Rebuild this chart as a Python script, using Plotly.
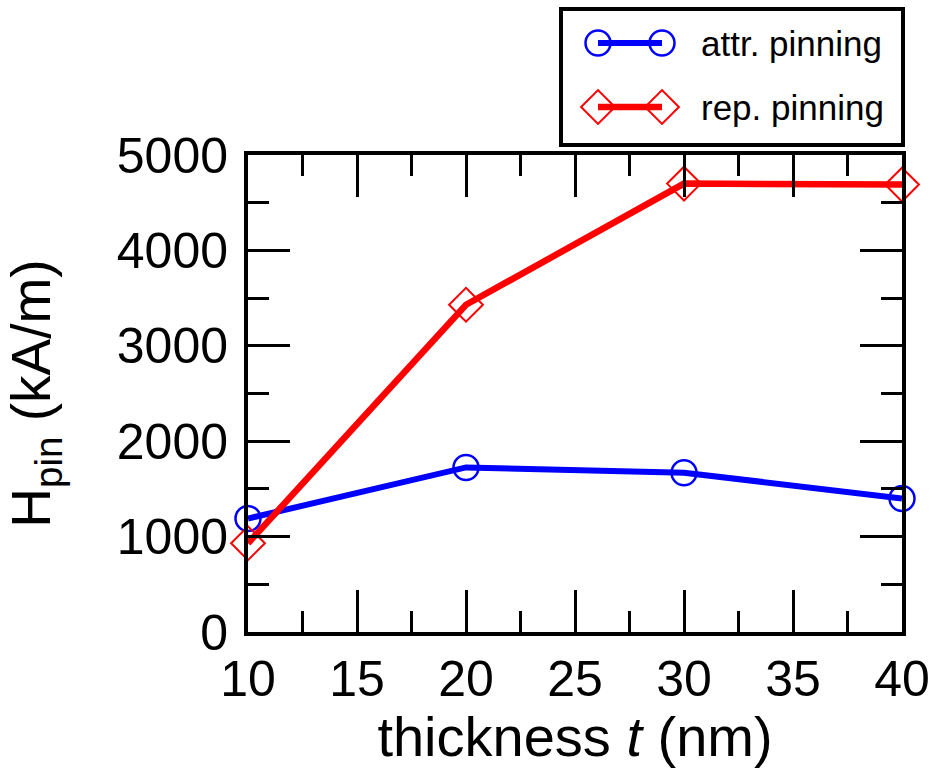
import plotly.graph_objects as go

# ---------------- data ----------------
thickness = [10, 20, 30, 40]                 # t (nm)
attr_pinning = [1190, 1725, 1670, 1400]      # H_pin (kA/m), attractive pinning
rep_pinning = [930, 3430, 4700, 4690]        # H_pin (kA/m), repulsive pinning
x_ticks = [10, 15, 20, 25, 30, 35, 40]
y_ticks = [0, 1000, 2000, 3000, 4000, 5000]
series_names = ["attr. pinning", "rep. pinning"]

# ---------------- layout constants ----------------
W, H = 938, 768
PL, PR, PT, PB = 248, 902, 155, 632   # plot box (pixels)
BLUE, RED = "#0000ff", "#ff0000"
FONT = "Liberation Sans, Arial, Helvetica, sans-serif"

# custom legend layout (pixels)
LEG_BOX = (561, 9, 903, 145)
LEG_ROWS = [43, 107]
LEG_X0, LEG_X1, LEG_TEXT_X = 598, 662, 699

styles = [
    dict(color=BLUE, lw=6, symbol="circle-open", size=25, mlw=2.5),
    dict(color=RED, lw=6.5, symbol="diamond-open", size=26, mlw=2),
]
series = [attr_pinning, rep_pinning]

fig = go.Figure()
for name, vals, st in zip(series_names, series, styles):
    fig.add_trace(go.Scatter(
        x=thickness, y=vals, mode="lines+markers", name=name,
        line=dict(color=st["color"], width=st["lw"]),
        marker=dict(symbol=st["symbol"], size=st["size"], color=st["color"],
                    line=dict(color=st["color"], width=st["mlw"])),
        cliponaxis=False, showlegend=False,
    ))

# legend glyphs on a full-figure pixel overlay axis
for row, name, st in zip(LEG_ROWS, series_names, styles):
    fig.add_trace(go.Scatter(
        x=[LEG_X0, LEG_X1], y=[row, row], xaxis="x2", yaxis="y2",
        mode="lines+markers", showlegend=False, hoverinfo="skip",
        line=dict(color=st["color"], width=st["lw"]),
        marker=dict(symbol=st["symbol"], size=st["size"], color=st["color"],
                    line=dict(color=st["color"], width=st["mlw"])),
        cliponaxis=False,
    ))
    fig.add_annotation(
        x=LEG_TEXT_X, y=row, xref="x2", yref="y2", text=name, showarrow=False,
        xanchor="left", yanchor="middle", font=dict(family=FONT, size=35, color="black"),
    )

fig.add_shape(type="rect", xref="x2", yref="y2",
              x0=LEG_BOX[0], y0=LEG_BOX[1], x1=LEG_BOX[2], y1=LEG_BOX[3],
              line=dict(color="black", width=4), fillcolor="rgba(0,0,0,0)")

axis_common = dict(
    showline=True, linecolor="black", linewidth=4, mirror="ticks",
    ticks="inside", ticklen=42, tickwidth=3, tickcolor="black",
    showgrid=False, zeroline=False, automargin=False,
    tickfont=dict(family=FONT, size=50, color="black"),
)

fig.update_layout(
    template="none",
    width=W, height=H,
    margin=dict(l=0, r=0, t=0, b=0, pad=0),
    paper_bgcolor="white", plot_bgcolor="rgba(0,0,0,0)",
    font=dict(family=FONT, color="black"),
    xaxis=dict(
        domain=[PL / W, PR / W], range=[10, 40], tickvals=x_ticks,
        minor=dict(ticks="inside", ticklen=21, tickwidth=3, tickcolor="black", dtick=2.5, tick0=10),
        title=dict(text="thickness <i>t</i> (nm)", font=dict(family=FONT, size=56), standoff=12),
        ticklabelstandoff=0,
        **axis_common,
    ),
    yaxis=dict(
        domain=[1 - PB / H, 1 - PT / H], range=[0, 5000], tickvals=y_ticks,
        minor=dict(ticks="inside", ticklen=21, tickwidth=3, tickcolor="black", dtick=500, tick0=0),
        title=dict(text="H<sub>pin</sub> (kA/m)", font=dict(family=FONT, size=55), standoff=55),
        ticklabelstandoff=6,
        **axis_common,
    ),
    xaxis2=dict(domain=[0, 1], range=[0, W], visible=False, fixedrange=True, anchor="y2", automargin=False),
    yaxis2=dict(domain=[0, 1], range=[H, 0], visible=False, fixedrange=True, anchor="x2", automargin=False),
    showlegend=False,
)

fig.write_html("out.html")
